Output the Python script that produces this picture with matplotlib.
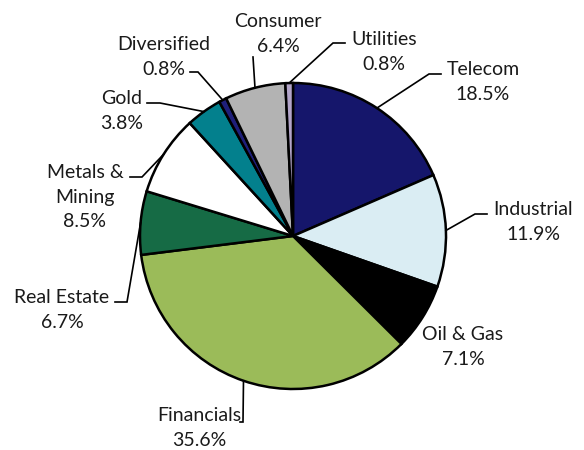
import numpy as np
import matplotlib.pyplot as plt

# sector weights, clockwise from 12 o'clock
sectors = ["Telecom", "Industrial", "Oil & Gas", "Financials", "Real Estate",
           "Metals &\nMining", "Gold", "Diversified", "Consumer", "Utilities"]
shares = [18.5, 11.9, 7.1, 35.6, 6.7, 8.5, 3.8, 0.8, 6.4, 0.8]
colors = ["#15166b", "#daedf3", "#000000", "#9bbb59", "#166b45",
          "#ffffff", "#03808d", "#1f1f7a", "#b3b3b3", "#b3a5c9"]

# label layout in pixels (top-left origin): text centre, leader stub start/end
label_pos = [(483, 82), (533, 222), (463, 347), (199, 428), (62, 310),
             (85, 197), (122, 111), (164, 57), (278, 34), (384, 52)]
stubs = [((441, 74), (429, 74)), ((487, 214), (475, 214)), None,
         ((240, 422), (243, 422)), ((115, 302), (127, 302)),
         ((130, 177), (142, 177)), ((147, 103), (160, 103)),
         ((190, 72), (198, 72)), None, ((345, 43), (333, 43))]
consumer_line = ((253, 57),)

cx, cy, r = 293, 236, 153

fig = plt.figure(figsize=(5.84, 4.5), dpi=100)
ax = fig.add_axes([0, 0, 1, 1])

ax.pie(shares, colors=colors, startangle=-90, counterclock=True,
       center=(cx, cy), radius=r, frame=True,
       wedgeprops=dict(edgecolor="black", linewidth=1.8))
ax.set_xlim(0, 584)
ax.set_ylim(450, 0)
ax.set_aspect("equal")
ax.axis("off")

cum = np.cumsum([0] + shares[:-1])
for i, name in enumerate(sectors):
    theta = np.deg2rad(-90 + (cum[i] + shares[i] / 2) * 360 / sum(shares))
    px, py = cx + r * np.cos(theta), cy + r * np.sin(theta)
    tx, ty = label_pos[i]
    ax.text(tx, ty, f"{name}\n{shares[i]:.1f}%", ha="center", va="center",
            fontsize=14, family=["Lato", "DejaVu Sans"], linespacing=1.55,
            color="#1a1a1a")
    if stubs[i] is not None:
        (x0, y0), (x1, y1) = stubs[i]
        ax.plot([x0, x1, px], [y0, y1, py], color="black", lw=1.2,
                solid_joinstyle="miter")
    elif name == "Consumer":
        x0, y0 = consumer_line[0]
        ax.plot([x0, px], [y0, py], color="black", lw=1.2)

fig.savefig("out.png", dpi=100)
